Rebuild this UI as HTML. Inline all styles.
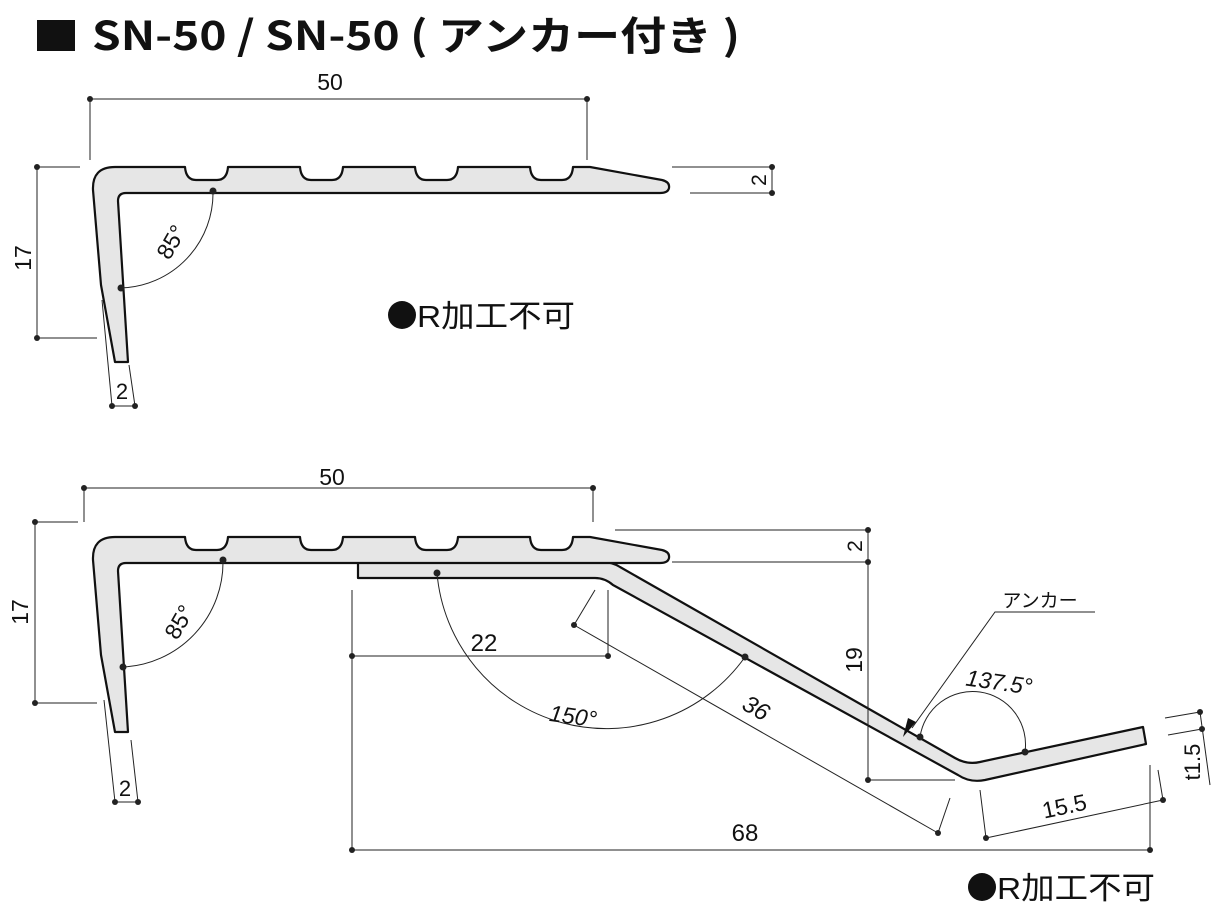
<!DOCTYPE html>
<html><head><meta charset="utf-8"><style>
html,body{margin:0;padding:0;background:#fff;}
svg{display:block;}
text{font-family:"Liberation Sans","Noto Sans CJK JP",sans-serif;fill:#111;}
</style></head><body>
<svg width="1230" height="908" viewBox="0 0 1230 908" xmlns="http://www.w3.org/2000/svg">
<defs>
<g id="top">
<path d="M115,167 L185,167 Q186,180 196,180 L217,180 Q227,180 228,167 L300,167 Q301,180 311,180 L332,180 Q342,180 343,167 L415,167 Q416,180 426,180 L447,180 Q457,180 458,167 L530,167 Q531,180 541,180 L562,180 Q572,180 573,167 L590,167 L662,180 Q670,182 669,188 Q668,193 660,193 L126,193 Q118,193 118,201 L128,362 L115,362 L101,285 L93,190 Q92,167 115,167 Z" fill="#e6e6e6" stroke="#111" stroke-width="2.2" stroke-linejoin="round"/>
</g>
</defs>
<!-- title -->
<rect x="37" y="20" width="38" height="31" fill="#111"/>
<text x="92" y="50" font-size="40" font-weight="bold" textLength="648" lengthAdjust="spacingAndGlyphs" style="font-family:'Noto Sans CJK JP','Liberation Sans',sans-serif">SN-50 / SN-50 ( アンカー付き )</text>

<!-- ===== top diagram ===== -->
<use href="#top"/>
<g stroke="#222" stroke-width="1" fill="none">
<line x1="90" y1="99" x2="587" y2="99"/>
<line x1="90" y1="99" x2="90" y2="160"/>
<line x1="587" y1="99" x2="587" y2="160"/>
<line x1="37" y1="167" x2="37" y2="338"/>
<line x1="37" y1="167" x2="80" y2="167"/>
<line x1="37" y1="338" x2="97" y2="338"/>
<line x1="672" y1="167" x2="772" y2="167"/>
<line x1="690" y1="193" x2="772" y2="193"/>
<line x1="772" y1="167" x2="772" y2="193"/>
<line x1="102" y1="300" x2="112" y2="406"/>
<line x1="129" y1="365" x2="135" y2="406"/>
<line x1="112" y1="406" x2="135" y2="406"/>
<path d="M213,191 A95,95 0 0 1 121,288"/>
</g>
<g fill="#222">
<circle cx="90" cy="99" r="3"/><circle cx="587" cy="99" r="3"/>
<circle cx="37" cy="167" r="3"/><circle cx="37" cy="338" r="3"/>
<circle cx="772" cy="167" r="3"/><circle cx="772" cy="193" r="3"/>
<circle cx="112" cy="406" r="3"/><circle cx="135" cy="406" r="3"/>
<circle cx="213" cy="191" r="3.5"/><circle cx="121" cy="288" r="3.5"/>
</g>
<text x="330" y="90" font-size="23" text-anchor="middle">50</text>
<text transform="translate(31,258) rotate(-90)" font-size="23" text-anchor="middle">17</text>
<text transform="translate(766,180) rotate(-90)" font-size="21" text-anchor="middle">2</text>
<text x="122" y="399" font-size="22" text-anchor="middle">2</text>
<text transform="translate(178,246) rotate(-60)" font-size="23" text-anchor="middle">85°</text>
<circle cx="402" cy="315" r="14" fill="#111"/>
<text x="417" y="327" font-size="31" textLength="158" lengthAdjust="spacingAndGlyphs">R加工不可</text>

<!-- ===== bottom diagram ===== -->
<path d="M358,562 L603,562 Q612,562 620,567 L955,758 Q967,765 980,762 L1143,727 L1146,744 L985,780 Q970,783 958,775 L613,585 Q605,578 595,578 L358,578 Z" fill="#e6e6e6" stroke="#111" stroke-width="2.2" stroke-linejoin="round"/>
<use href="#top" transform="translate(0,370)"/>
<g stroke="#222" stroke-width="1" fill="none">
<line x1="84" y1="488" x2="593" y2="488"/>
<line x1="84" y1="488" x2="84" y2="522"/>
<line x1="593" y1="488" x2="593" y2="522"/>
<line x1="35" y1="522" x2="35" y2="703"/>
<line x1="35" y1="522" x2="78" y2="522"/>
<line x1="35" y1="703" x2="97" y2="703"/>
<line x1="104" y1="700" x2="115" y2="802"/>
<line x1="131" y1="740" x2="138" y2="802"/>
<line x1="115" y1="802" x2="138" y2="802"/>
<path d="M223,560 A105,105 0 0 1 123,667"/>
<line x1="615" y1="530" x2="868" y2="530"/>
<line x1="672" y1="562" x2="868" y2="562"/>
<line x1="868" y1="530" x2="868" y2="780"/>
<line x1="868" y1="780" x2="955" y2="780"/>
<line x1="352" y1="656" x2="608" y2="656"/>
<line x1="352" y1="590" x2="352" y2="850"/>
<line x1="608" y1="590" x2="608" y2="656"/>
<line x1="352" y1="850" x2="1150" y2="850"/>
<line x1="1150" y1="765" x2="1150" y2="850"/>
<line x1="574" y1="625" x2="938" y2="833"/>
<line x1="574" y1="625" x2="595" y2="590"/>
<line x1="938" y1="833" x2="950" y2="798"/>
<path d="M437,573 A170,170 0 0 0 745,657"/>
<path d="M920,737 A53,53 0 0 1 1025,752"/>
<polyline points="1095,612 995,612 912,728"/>
<line x1="986" y1="838" x2="1163" y2="800"/>
<line x1="986" y1="838" x2="980" y2="790"/>
<line x1="1163" y1="800" x2="1158" y2="770"/>
<line x1="1165" y1="718" x2="1200" y2="712"/>
<line x1="1168" y1="735" x2="1202" y2="729"/>
<line x1="1200" y1="712" x2="1210" y2="785"/>
</g>
<polygon points="903,737 908,718 916,722" fill="#111"/>
<g fill="#222">
<circle cx="84" cy="488" r="3"/><circle cx="593" cy="488" r="3"/>
<circle cx="35" cy="522" r="3"/><circle cx="35" cy="703" r="3"/>
<circle cx="115" cy="802" r="3"/><circle cx="138" cy="802" r="3"/>
<circle cx="223" cy="560" r="3.5"/><circle cx="123" cy="667" r="3.5"/>
<circle cx="868" cy="530" r="3"/><circle cx="868" cy="562" r="3"/><circle cx="868" cy="780" r="3"/>
<circle cx="352" cy="656" r="3"/><circle cx="608" cy="656" r="3"/>
<circle cx="352" cy="850" r="3"/><circle cx="1150" cy="850" r="3"/>
<circle cx="574" cy="625" r="3"/><circle cx="938" cy="833" r="3"/>
<circle cx="437" cy="573" r="3.5"/><circle cx="745" cy="657" r="3.5"/>
<circle cx="920" cy="737" r="3.5"/><circle cx="1025" cy="752" r="3.5"/>
<circle cx="986" cy="838" r="3"/><circle cx="1163" cy="800" r="3"/>
<circle cx="1200" cy="712" r="3"/><circle cx="1202" cy="729" r="3"/>
</g>
<text x="332" y="485" font-size="23" text-anchor="middle">50</text>
<text transform="translate(28,612) rotate(-90)" font-size="23" text-anchor="middle">17</text>
<text x="125" y="796" font-size="22" text-anchor="middle">2</text>
<text transform="translate(186,626) rotate(-60)" font-size="23" text-anchor="middle">85°</text>
<text transform="translate(862,546) rotate(-90)" font-size="21" text-anchor="middle">2</text>
<text transform="translate(862,660) rotate(-90)" font-size="23" text-anchor="middle">19</text>
<text x="484" y="651" font-size="24" text-anchor="middle">22</text>
<text x="745" y="841" font-size="24" text-anchor="middle">68</text>
<text transform="translate(752,715) rotate(30)" font-size="24" text-anchor="middle" font-style="italic">36</text>
<text transform="translate(572,724) rotate(8)" font-size="23" text-anchor="middle" font-style="italic">150°</text>
<text transform="translate(998,690) rotate(8)" font-size="23" text-anchor="middle" font-style="italic">137.5°</text>
<text x="1040" y="607" font-size="19" text-anchor="middle">アンカー</text>
<text transform="translate(1066,814) rotate(-12)" font-size="23" text-anchor="middle">15.5</text>
<text transform="translate(1200,762) rotate(-90)" font-size="22" text-anchor="middle">t1.5</text>
<circle cx="982" cy="887" r="14" fill="#111"/>
<text x="997" y="899" font-size="31" textLength="158" lengthAdjust="spacingAndGlyphs">R加工不可</text>
</svg>
</body></html>
